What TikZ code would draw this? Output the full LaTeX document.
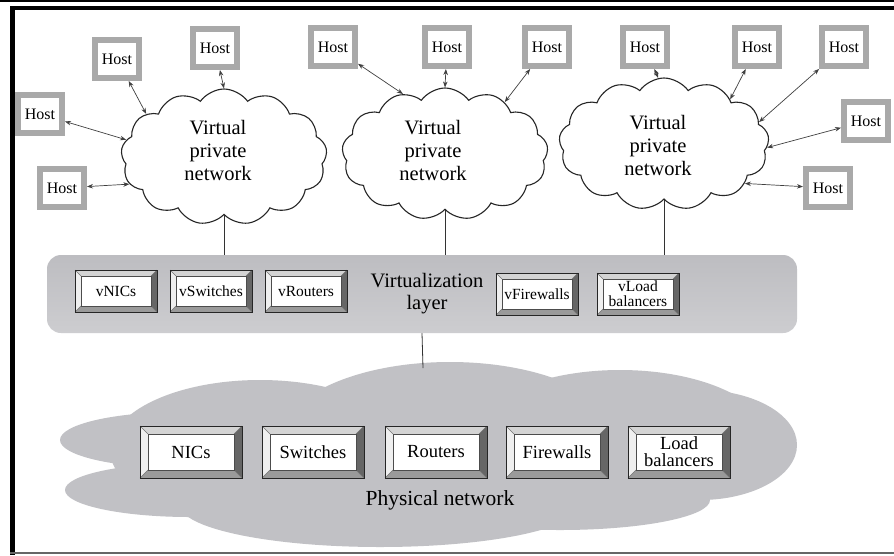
\documentclass[tikz,border=0pt]{standalone}
\usepackage{fontspec}
\setmainfont{Liberation Serif}
\usetikzlibrary{shapes.symbols,arrows.meta,calc}
\pgfdeclarelayer{background}
\pgfsetlayers{background,main}
\definecolor{hostgray}{HTML}{A9A9A9}
\definecolor{layergray}{HTML}{BDBDC1}
\definecolor{layerlight}{HTML}{CDCDD0}
\definecolor{physgray}{HTML}{C1C1C5}
\definecolor{bevtop}{HTML}{D4D4D4}
\definecolor{bevleft}{HTML}{EFEFEF}
\definecolor{bevright}{HTML}{666666}
\definecolor{bevbot}{HTML}{9A9A9A}
\newcommand\hostfnt{\fontsize{16}{18}\selectfont}
\newcommand\cloudfnt{\fontsize{20.5}{23}\selectfont}
\newcommand\vboxfnt{\fontsize{15.5}{15}\selectfont}
\newcommand\pboxfnt{\fontsize{18.5}{17}\selectfont}
\newcommand\layerfnt{\fontsize{20.5}{22}\selectfont}
\newcommand\physfnt{\fontsize{21.5}{24}\selectfont}
\tikzset{
  hostbox/.style={draw=hostgray, line width=6pt, fill=white, minimum width=44pt,
    minimum height=38pt, inner sep=0pt, outer sep=3pt, font=\hostfnt},
  vpn/.style={cloud, cloud puffs=13, cloud puff arc=110, cloud ignores aspect,
    draw=black!85, line width=1.1pt, fill=white, inner sep=0pt},
  cloudtext/.style={font=\cloudfnt, align=center, inner sep=0pt},
  link/.style={<->, >={Stealth[length=6pt,width=4.5pt]}, draw=black!75, line width=0.7pt},
  plain/.style={draw=black!80, line width=0.8pt},
  bevbox/.style={fill=white, inner sep=0pt, outer sep=0pt, align=center},
  layerbox/.style={top color=layergray, bottom color=layerlight, rounded corners=14pt,
    minimum width=750pt, minimum height=78pt, inner sep=0pt},
}
\newcommand\bevelbox[7]{% name, at, w, h, bevel, font, text
  \node[bevbox, minimum width=#3, minimum height=#4, font=#6] (#1) at #2 {#7};
  \coordinate (#1-a) at ($(#1.north west)+(#5,#5)$);
  \coordinate (#1-b) at ($(#1.north east)+(-#5,#5)$);
  \coordinate (#1-c) at ($(#1.south east)+(-#5,-#5)$);
  \coordinate (#1-d) at ($(#1.south west)+(#5,-#5)$);
  \fill[bevtop] (#1.north west) -- (#1.north east) -- (#1-b) -- (#1-a) -- cycle;
  \fill[bevleft] (#1.north west) -- (#1-a) -- (#1-d) -- (#1.south west) -- cycle;
  \fill[bevright] (#1.north east) -- (#1.south east) -- (#1-c) -- (#1-b) -- cycle;
  \fill[bevbot] (#1.south west) -- (#1-d) -- (#1-c) -- (#1.south east) -- cycle;
  \draw[black!55, line width=0.5pt] (#1.north west) -- (#1-a) (#1.north east) -- (#1-b)
     (#1.south east) -- (#1-c) (#1.south west) -- (#1-d);
  \draw[black!70, line width=0.7pt] (#1-a) rectangle (#1-c);
  \draw[black!85, line width=1pt] (#1.north west) rectangle (#1.south east);
}
\begin{document}
\begin{tikzpicture}[x=1pt, y=-1pt]
\useasboundingbox (0,0) rectangle (894,555);
\begin{pgfonlayer}{background}
\fill[white] (0,0) rectangle (894,555);
% physical network cloud
\fill[physgray] (180,440) ellipse [x radius=120, y radius=28];
\fill[physgray] (190,490) ellipse [x radius=125, y radius=27];
\fill[physgray] (260,450) ellipse [x radius=150, y radius=70];
\fill[physgray] (450,440) ellipse [x radius=170, y radius=78];
\fill[physgray] (620,440) ellipse [x radius=150, y radius=70];
\fill[physgray] (700,445) ellipse [x radius=97, y radius=55];
\fill[physgray] (380,505) ellipse [x radius=200, y radius=42];
\fill[physgray] (560,500) ellipse [x radius=150, y radius=30];
\end{pgfonlayer}
% frame
\draw[black, line width=1.2pt] (0,1) -- (894,1);
\draw[black, line width=4pt] (10,8) -- (894,8);
\draw[black, line width=5pt] (12,6) -- (12,555);
\draw[black!60, line width=2pt] (10,553) -- (894,553);

\coordinate (pntop) at (423,368);

% virtualization layer
\node[layerbox] (vl) at (422,294) {};
\node[font=\layerfnt, align=center, inner sep=0pt] (vltext) at (427,294) {Virtualization\\layer};
\bevelbox{vnics}{(116,291)}{82pt}{42pt}{6}{\vboxfnt}{vNICs}
\bevelbox{vswitches}{(211,291)}{82pt}{42pt}{6}{\vboxfnt}{vSwitches}
\bevelbox{vrouters}{(306,291)}{82pt}{42pt}{6}{\vboxfnt}{vRouters}
\bevelbox{vfirewalls}{(537,294)}{82pt}{42pt}{6}{\vboxfnt}{vFirewalls}
\bevelbox{vload}{(638,294)}{82pt}{42pt}{6}{\vboxfnt}{vLoad\\balancers}

% physical boxes
\bevelbox{nics}{(191,452)}{102pt}{52pt}{8}{\pboxfnt}{NICs}
\bevelbox{switches}{(313,452)}{102pt}{52pt}{8}{\pboxfnt}{Switches}
\bevelbox{routers}{(436,452)}{102pt}{52pt}{8}{\pboxfnt}{Routers}
\bevelbox{firewalls}{(557,452)}{102pt}{52pt}{8}{\pboxfnt}{Firewalls}
\bevelbox{loadbal}{(679,452)}{102pt}{52pt}{8}{\pboxfnt}{Load\\balancers}
\node[font=\physfnt, inner sep=0pt] (phys) at (440,500) {Physical network};

% virtual private network clouds
\node[vpn, minimum width=206pt, minimum height=136pt] (c1) at (224,157) {};
\node[vpn, minimum width=206pt, minimum height=132pt] (c2) at (445,154) {};
\node[vpn, minimum width=210pt, minimum height=132pt] (c3) at (664,144) {};
\node[cloudtext] (t1) at (218,150) {Virtual\\private\\network};
\node[cloudtext] (t2) at (433,150) {Virtual\\private\\network};
\node[cloudtext] (t3) at (658,145) {Virtual\\private\\network};

\begin{pgfonlayer}{background}
\draw[plain] (c1.center) -- (c1.center |- vl.north);
\draw[plain] (c2.center) -- (c2.center |- vl.north);
\draw[plain] (c3.center) -- (c3.center |- vl.north);
\draw[plain] (vl.south) -- (pntop);
\end{pgfonlayer}

% hosts
\node[hostbox] (h1) at (117,59) {Host};
\node[hostbox] (h2) at (215,48) {Host};
\node[hostbox] (h3) at (40,114) {Host};
\node[hostbox] (h4) at (62,188) {Host};
\node[hostbox] (h5) at (333,47) {Host};
\node[hostbox] (h6) at (447,47) {Host};
\node[hostbox] (h7) at (547,47) {Host};
\node[hostbox] (h8) at (645,47) {Host};
\node[hostbox] (h9) at (757,47) {Host};
\node[hostbox] (h10) at (844,47) {Host};
\node[hostbox] (h11) at (866,121) {Host};
\node[hostbox] (h12) at (828,188) {Host};

% links
\draw[link] (h1) -- (c1.151);
\draw[link] (h2) -- (c1.90);
\draw[link] (h3) -- (c1.170);
\draw[link] (h4) -- (c1.196);
\draw[link] (h5) -- (c2.125);
\draw[link] (h6) -- (c2.90);
\draw[link] (h7) -- (c2.41);
\draw[link] (h8) -- (c3.95);
\draw[link] (h9) -- (c3.34);
\draw[link] (h10) -- (c3.13);
\draw[link] (h11) -- (c3.358);
\draw[link] (h12) -- (c3.334);
\end{tikzpicture}
\end{document}
